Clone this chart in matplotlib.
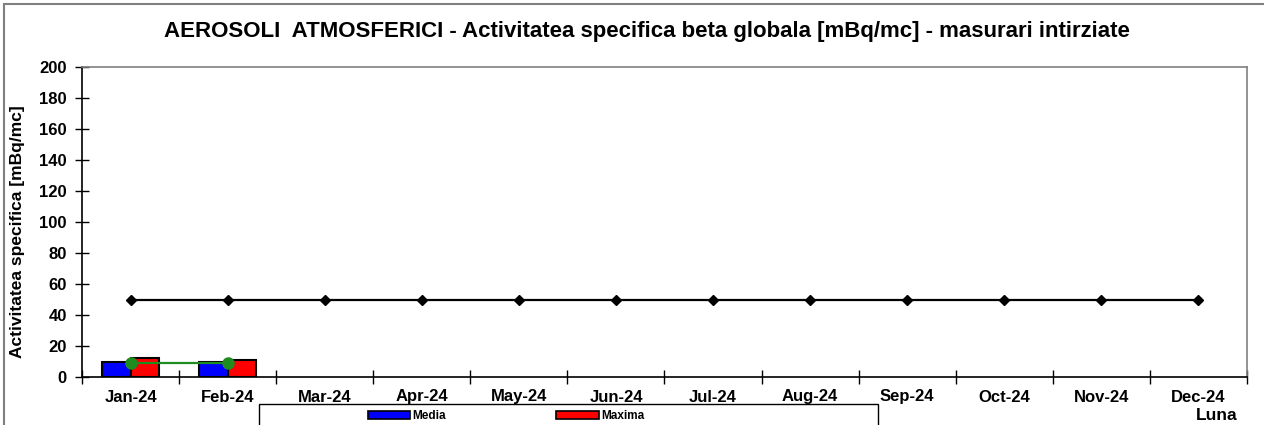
import matplotlib
matplotlib.use("Agg")
import matplotlib.pyplot as plt
from matplotlib.patches import Rectangle, Patch
import numpy as np

plt.rcParams['font.family'] = ['Liberation Sans', 'DejaVu Sans']
plt.rcParams['font.weight'] = 'bold'

months = ["Jan-24", "Feb-24", "Mar-24", "Apr-24", "May-24", "Jun-24",
          "Jul-24", "Aug-24", "Sep-24", "Oct-24", "Nov-24", "Dec-24"]
media = [9.7, 9.7]
maxima = [12.0, 11.2]
green_vals = [8.8, 8.8]
limit_vals = [50] * 12

title = "AEROSOLI  ATMOSFERICI - Activitatea specifica beta globala [mBq/mc] - masurari intirziate"
ylabel = "Activitatea specifica [mBq/mc]"
xlabel = "Luna"

W, H = 1264, 425
fig = plt.figure(figsize=(W / 100, H / 100), dpi=100)
ax = fig.add_axes([82 / W, 1 - 377 / H, (1247 - 82) / W, (377 - 67) / H])

x_all = np.arange(len(months))
x_data = np.arange(len(media))
bw = 0.29
ax.bar(x_data - bw / 2, media, width=bw, color='#0000FF', edgecolor='black', linewidth=1.5, zorder=2)
ax.bar(x_data + bw / 2, maxima, width=bw, color='#FF0000', edgecolor='black', linewidth=1.5, zorder=2)
ax.plot(x_all, limit_vals, color='black', lw=1.6, marker='D', markersize=5.5, zorder=3)
ax.plot(x_data, green_vals, color='#1E8C1E', lw=1.6, marker='o', markersize=8, zorder=4)

ax.set_xlim(-0.5, 11.5)
ax.set_ylim(0, 200)
ax.set_yticks(np.arange(0, 201, 20))
ax.set_xticks(x_all)
ax.set_xticklabels(months)
ax.set_xticks(np.arange(-0.5, 12, 1), minor=True)
ax.tick_params(axis='x', which='major', length=0, pad=9, labelsize=12)
ax.tick_params(axis='x', which='minor', direction='inout', length=10, width=1)
ax.tick_params(axis='y', direction='inout', length=10, width=1, labelsize=12, pad=6)
for lab in ax.get_xticklabels() + ax.get_yticklabels():
    lab.set_fontweight('bold')

for s in ['top', 'right']:
    ax.spines[s].set_color('#808080')
    ax.spines[s].set_linewidth(1.2)
for s in ['left', 'bottom']:
    ax.spines[s].set_color('black')
    ax.spines[s].set_linewidth(1.2)

fig.text(647 / W, 1 - 31 / H, title, ha='center', va='center', fontsize=16, fontweight='bold')
fig.text(18 / W, 1 - 232 / H, ylabel, ha='center', va='center', rotation=90, fontsize=12.5, fontweight='bold')
fig.text(1217 / W, 1 - 420 / H, xlabel, ha='center', va='baseline', fontsize=12.5, fontweight='bold')

# outer chart border
fig.patches.append(Rectangle((4 / W, -0.2), 1.2, 1.2 - 4 / H, transform=fig.transFigure,
                             fill=False, edgecolor='#808080', lw=1.5, zorder=0))
# legend box
fig.patches.append(Rectangle((259 / W, -0.2), (878 - 259) / W, 0.2 + 1 - 404 / H,
                             transform=fig.transFigure, fill=False, edgecolor='black', lw=1.0, zorder=1))
handles = [Patch(facecolor='#0000FF', edgecolor='black', lw=1.2, label='Media'),
           Patch(facecolor='#FF0000', edgecolor='black', lw=1.2, label='Maxima')]
leg = fig.legend(handles=handles, loc='center', bbox_to_anchor=(506 / W, 1 - 416 / H), ncol=2,
                 frameon=False, fontsize=8.5, handlelength=3.6, handleheight=0.65,
                 handletextpad=0.2, columnspacing=9.3, borderpad=0)
for t in leg.get_texts():
    t.set_fontweight('bold')

fig.savefig("out.png", dpi=100)
